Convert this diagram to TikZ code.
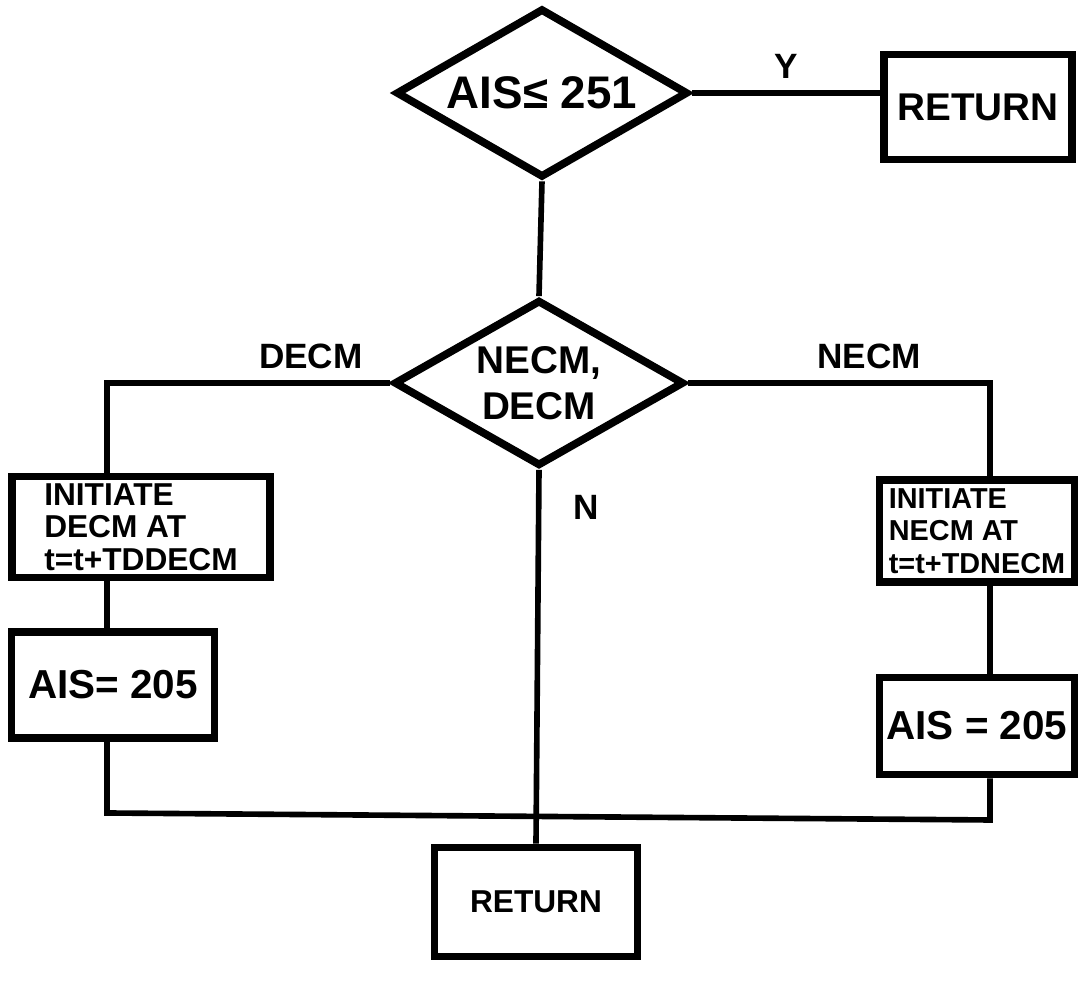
\documentclass[tikz,border=0pt]{standalone}
\usepackage{fontspec}
\setmainfont{Liberation Sans}
\usetikzlibrary{shapes.geometric}
\tikzset{
  box/.style={draw, line width=2.2pt, inner sep=0pt, align=center},
  decision/.style={draw, diamond, aspect=1.73, line width=2.2pt, inner sep=0pt, align=center},
  lbl/.style={font=\bfseries\fontsize{10}{11}\selectfont},
  small text/.style={align=left, font=\bfseries\fontsize{#1}{9.2}\selectfont},
}
\newcommand{\fs}[1]{\bfseries\fontsize{#1}{#1}\selectfont}

\begin{document}
\begin{tikzpicture}[x=0.01cm, y=-0.01cm, line width=1.6pt]
    \useasboundingbox (0,0) rectangle (1090,983);

    \node[decision, minimum width=2.92cm, minimum height=1.69cm, font=\fs{13}] (q1) at (542,93) {AIS≤ 251};
    \node[box, minimum width=1.88cm, minimum height=1.05cm, font=\fs{11}] (ret1) at (978,107) {RETURN};
    \node[decision, minimum width=2.90cm, minimum height=1.66cm, font=\bfseries\fontsize{11}{13}\selectfont] (q2) at (539,383) {NECM,\\DECM};

    \node[box, small text=9, minimum width=2.58cm, minimum height=1.01cm] (ld1) at (141,527) {INITIATE\\DECM AT\\t=t+TDDECM};
    \node[box, minimum width=2.03cm, minimum height=1.06cm, font=\fs{11.5}] (ld2) at (113,685) {AIS= 205};
    \node[box, small text=8.2, minimum width=1.95cm, minimum height=1.02cm] (rd1) at (977,531) {INITIATE\\NECM AT\\t=t+TDNECM};
    \node[box, minimum width=1.95cm, minimum height=0.97cm, font=\fs{11.5}] (rd2) at (977,726) {AIS = 205};
    \node[box, minimum width=2.03cm, minimum height=1.09cm, font=\fs{9}] (ret2) at (536,902) {RETURN};

    \coordinate (lj) at (107,813);
    \coordinate (rj) at (990,820);

    \draw (q1.east) -- node[lbl, above] {Y} (q1.east -| ret1.west);
    \draw (q1.south) -- (q2.north);
    \draw (q2.west) -| node[lbl, pos=0.14, above] {DECM} (ld1.north -| lj);
    \draw (q2.east) -| node[lbl, pos=0.3, above] {NECM} (rd1.north -| rj);
    \draw (q2.south) -- node[lbl, pos=0.1, right=0.2cm] {N} (ret2.north);
    \draw (ld1.south -| lj) -- (ld2.north -| lj);
    \draw (rd1.south -| rj) -- (rd2.north -| rj);
    \draw (ld2.south -| lj) -- (lj) -- (rj) -- (rd2.south -| rj);

\end{tikzpicture}
\end{document}
